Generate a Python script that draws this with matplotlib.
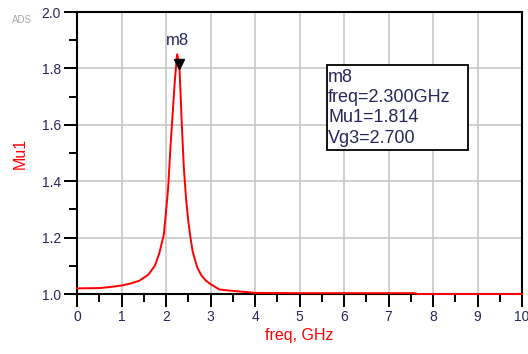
import matplotlib
matplotlib.use("Agg")
import matplotlib.pyplot as plt
from matplotlib.patches import Rectangle
from matplotlib.ticker import MultipleLocator

# data (Mu1 stability factor vs frequency)
freq_ghz = [0.0, 0.5, 0.7, 1.0, 1.2, 1.4, 1.6, 1.75, 1.85, 1.95, 2.0, 2.05,
            2.1, 2.15, 2.2, 2.25, 2.3, 2.35, 2.4, 2.45, 2.5, 2.55, 2.6, 2.7,
            2.8, 2.9, 3.0, 3.2, 3.5, 3.8, 4.0, 5.0, 6.0, 7.0, 7.6, 7.65,
            8.0, 9.0, 10.0]
mu1 = [1.020, 1.021, 1.024, 1.030, 1.037, 1.047, 1.068, 1.100, 1.145, 1.210,
       1.290, 1.380, 1.520, 1.640, 1.760, 1.850, 1.814, 1.620, 1.450, 1.340,
       1.260, 1.200, 1.150, 1.095, 1.065, 1.047, 1.035, 1.016, 1.011, 1.007,
       1.004, 1.003, 1.003, 1.003, 1.003, 1.000, 1.000, 1.000, 1.000]

marker_name = "m8"
marker_freq = 2.3
marker_mu1 = 1.814
marker_vg3 = 2.7

x_ticks = list(range(0, 11))
y_ticks = [1.0, 1.2, 1.4, 1.6, 1.8, 2.0]

txt_col = "#26265c"

plt.rcParams["font.family"] = ["Liberation Sans", "DejaVu Sans"]

fig = plt.figure(figsize=(5.28, 3.54), dpi=100)
ax = fig.add_axes([77 / 528, 1 - 294 / 354, 445 / 528, 282 / 354])

ax.plot(freq_ghz, mu1, color="red", lw=1.4, zorder=5, clip_on=False)

ax.set_xlim(0, 10)
ax.set_ylim(1.0, 2.0)
ax.set_xticks(x_ticks)
ax.set_yticks(y_ticks)
ax.set_yticklabels([f"{v:.1f}" for v in y_ticks])
ax.xaxis.set_minor_locator(MultipleLocator(0.5))
ax.yaxis.set_minor_locator(MultipleLocator(0.1))
ax.grid(True, which="major", color="#c8c8c8", lw=1.2)
ax.set_axisbelow(True)

ax.tick_params(which="major", length=9.5, width=1.4, color="black",
               labelsize=10, labelcolor=txt_col, pad=2)
ax.tick_params(which="minor", length=6, width=1.4, color="black")
for s in ax.spines.values():
    s.set_linewidth(1.5)
    s.set_color("black")

ax.set_xlabel("freq, GHz", color="red", fontsize=11.5, labelpad=3)
ax.set_ylabel("Mu1", color="red", fontsize=11.5, labelpad=10)

# marker
ax.plot([marker_freq], [marker_mu1], marker="v", color="black", ms=7,
        zorder=6, clip_on=False)
ax.annotate(marker_name, (marker_freq, marker_mu1), xytext=(-1, 12),
            textcoords="offset points", ha="center", va="bottom",
            fontsize=12, color=txt_col)

# readout box
box = Rectangle((327 / 528, 1 - 150 / 354), 141 / 528, 85 / 354,
                transform=fig.transFigure, facecolor="white",
                edgecolor="black", lw=1.3, zorder=10)
fig.patches.append(box)
lines = [marker_name,
         f"freq={marker_freq:.3f}GHz",
         f"Mu1={marker_mu1:.3f}",
         f"Vg3={marker_vg3:.3f}"]
for i, line in enumerate(lines):
    fig.text(328 / 528, 1 - (78 + i * 20) / 354, line, fontsize=13,
             color=txt_col, va="center", ha="left", zorder=11)

fig.text(12 / 528, 1 - 20 / 354, "ADS", fontsize=7, color="#a8a8a8",
         va="center", ha="left")

fig.savefig("out.png", dpi=100)
